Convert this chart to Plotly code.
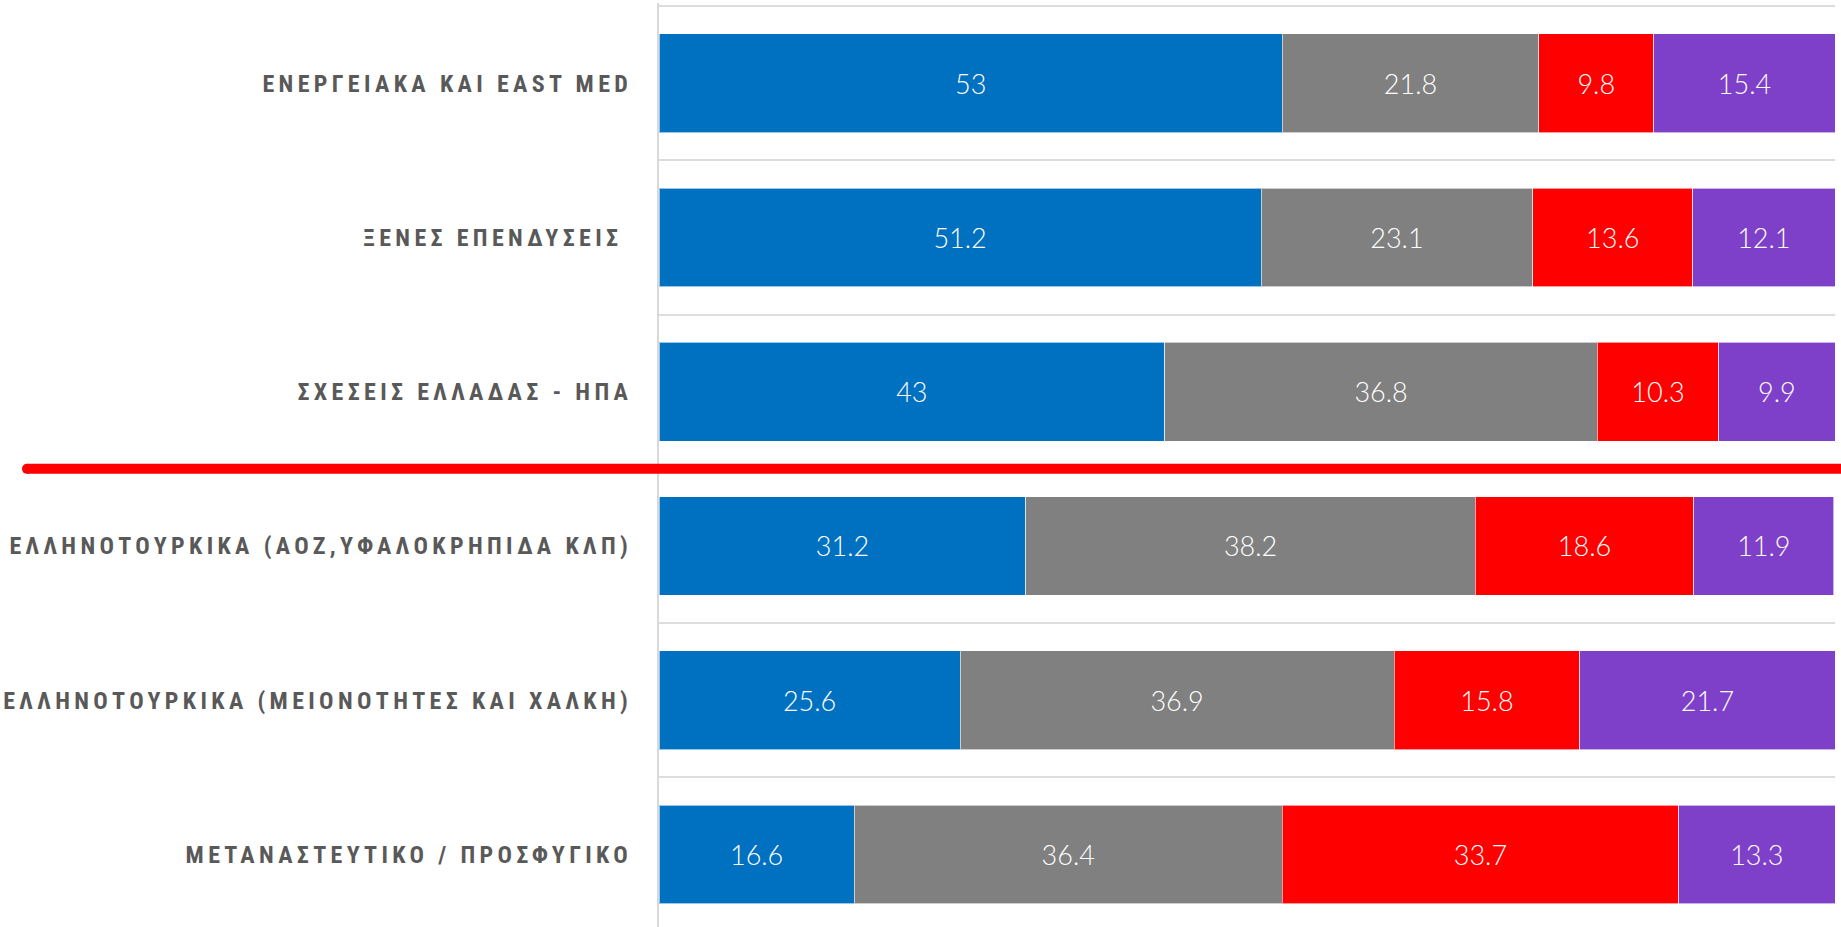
import plotly.graph_objects as go

categories = [
    "ΕΝΕΡΓΕΙΑΚΑ ΚΑΙ EAST MED",
    "ΞΕΝΕΣ ΕΠΕΝΔΥΣΕΙΣ\u00a0",
    "ΣΧΕΣΕΙΣ ΕΛΛΑΔΑΣ - ΗΠΑ",
    "ΕΛΛΗΝΟΤΟΥΡΚΙΚΑ (ΑΟΖ,ΥΦΑΛΟΚΡΗΠΙΔΑ ΚΛΠ)",
    "ΕΛΛΗΝΟΤΟΥΡΚΙΚΑ (ΜΕΙΟΝΟΤΗΤΕΣ ΚΑΙ ΧΑΛΚΗ)",
    "ΜΕΤΑΝΑΣΤΕΥΤΙΚΟ / ΠΡΟΣΦΥΓΙΚΟ",
]

series_names = ["Θετικά", "Ουδέτερα", "Αρνητικά", "ΔΓ/ΔΑ"]
series_1 = [53, 51.2, 43, 31.2, 25.6, 16.6]
series_2 = [21.8, 23.1, 36.8, 38.2, 36.9, 36.4]
series_3 = [9.8, 13.6, 10.3, 18.6, 15.8, 33.7]
series_4 = [15.4, 12.1, 9.9, 11.9, 21.7, 13.3]
series_values = [series_1, series_2, series_3, series_4]
colors = ["#0070C0", "#808080", "#FF0000", "#7E40C9"]

separator_after_index = 2  # red line between 3rd and 4th category

fig = go.Figure()
for name, vals, col in zip(series_names, series_values, colors):
    fig.add_trace(go.Bar(
        y=categories,
        x=vals,
        name=name,
        orientation="h",
        marker=dict(color=col, line=dict(color="rgba(255,255,255,0.6)", width=1)),
        texttemplate="%{x}",
        textposition="inside",
        insidetextanchor="middle",
        textangle=0,
        constraintext="none",
        textfont=dict(family="Century Gothic, Lato, sans-serif", size=27, color="white", weight=300),
        showlegend=False,
    ))

fig.update_layout(
    barmode="stack",
    bargap=0.36,
    width=1841,
    height=927,
    margin=dict(l=659, r=6, t=3, b=0),
    plot_bgcolor="white",
    paper_bgcolor="white",
    xaxis=dict(range=[0, 100], showgrid=False, zeroline=False, showticklabels=False,
               showline=False, fixedrange=True),
    yaxis=dict(
        type="category",
        range=[5.47, -0.52],
        tickson="boundaries",
        showgrid=True,
        gridcolor="#dddddd",
        gridwidth=2,
        showline=True,
        linecolor="#d9d9d9",
        linewidth=2,
        ticks="",
        ticklabelstandoff=20,
        tickfont=dict(family="Roboto Condensed, Liberation Sans Narrow, sans-serif", size=24,
                      color="#595959", weight="bold"),
    ),
)

sep_y = separator_after_index + 0.5
left_x = (27 - 659) / 1176
# red separator line with rounded left end
fig.add_shape(type="rect", xref="paper", yref="y",
              x0=left_x, x1=1.01,
              ysizemode="pixel", yanchor=sep_y, y0=-5, y1=5,
              line=dict(width=0), fillcolor="#FF0000", layer="above")
fig.add_shape(type="circle", xref="paper", yref="y",
              xsizemode="pixel", xanchor=left_x, x0=-5, x1=5,
              ysizemode="pixel", yanchor=sep_y, y0=-5, y1=5,
              line=dict(width=0), fillcolor="#FF0000", layer="above")

post = """
document.body.style.margin = '0';
var gd = document.getElementById('{plot_id}');
function ls(){ gd.querySelectorAll('.ytick text').forEach(function(t){ t.style.letterSpacing='4.35px'; }); }
ls(); gd.on('plotly_afterplot', ls);
"""
fig.write_html("out.html", post_script=post, config={"displayModeBar": False})
